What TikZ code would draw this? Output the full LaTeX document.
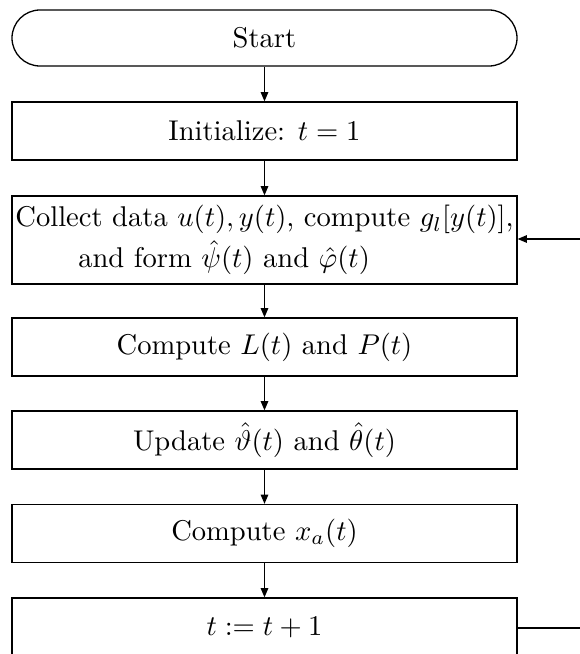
\documentclass[tikz,border=0pt]{standalone}
\usetikzlibrary{arrows.meta}
\begin{document}
\begin{tikzpicture}[x=0.35pt,y=-0.35pt,
  flowbox/.style={draw,line width=0.45pt,minimum width=176.75pt,minimum height=20.3pt,inner sep=0pt},
  flowarrow/.style={draw,line width=0.45pt,-{Triangle[length=3.2pt,width=2.6pt]}}]
\useasboundingbox (0,0) rectangle (579,654);
\node[flowbox,rounded corners=9.8pt,minimum height=19.6pt] (start) at (264.5,38) {Start};
\node[flowbox] (init) at (264.5,131) {Initialize: $t=1$};
\node[flowbox,minimum height=30.8pt,align=left] (collect) at (264.5,240)
  {Collect data $u(t),y(t)$, compute $g_l[y(t)]$,\\[1.2pt]
   \hspace*{22pt}and form $\hat{\psi}(t)$ and $\hat{\varphi}(t)$};
\node[flowbox] (comp) at (264.5,347) {Compute $L(t)$ and $P(t)$};
\node[flowbox] (upd) at (264.5,440) {Update $\hat{\vartheta}(t)$ and $\hat{\theta}(t)$};
\node[flowbox] (xa) at (264.5,533.5) {Compute $x_a(t)$};
\node[flowbox] (inc) at (264.5,627) {$t:=t+1$};
\coordinate (fbin) at (582,239);
\coordinate (fbout) at (582,628);
\draw[flowarrow] (start) -- (init);
\draw[flowarrow] (init) -- (collect);
\draw[flowarrow] (collect) -- (comp);
\draw[flowarrow] (comp) -- (upd);
\draw[flowarrow] (upd) -- (xa);
\draw[flowarrow] (xa) -- (inc);
\draw[flowarrow] (fbin) -- (collect.east |- fbin);
\draw[line width=0.45pt] (inc.east |- fbout) -- (fbout);
\end{tikzpicture}
\end{document}
